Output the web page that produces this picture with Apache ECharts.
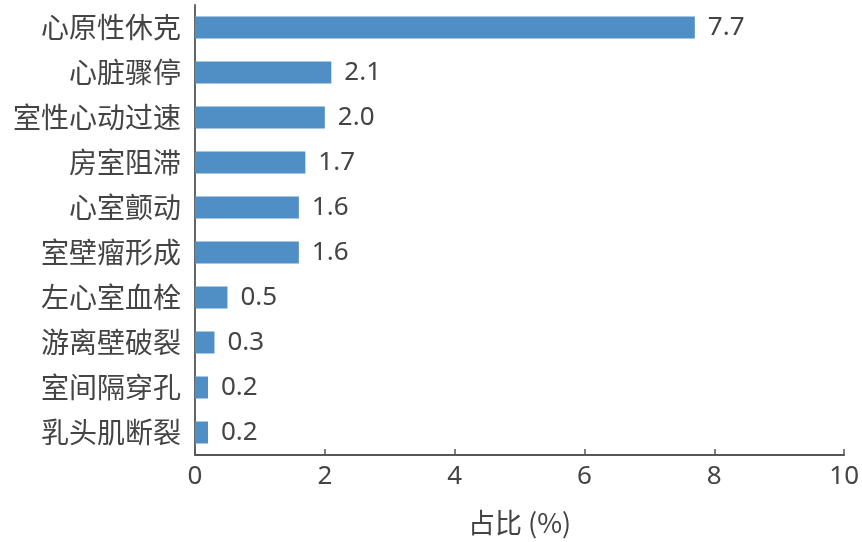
<!DOCTYPE html>
<html><head><meta charset="utf-8">
<script src="https://cdn.jsdelivr.net/npm/echarts@6/dist/echarts.min.js"></script>
<style>html,body{margin:0;padding:0;background:#fff}#c{width:862px;height:542px}</style>
</head><body><div id="c"></div>
<script>
const categories = ['心原性休克','心脏骤停','室性心动过速','房室阻滞','心室颤动','室壁瘤形成','左心室血栓','游离壁破裂','室间隔穿孔','乳头肌断裂'];
const values = [7.7, 2.1, 2.0, 1.7, 1.6, 1.6, 0.5, 0.3, 0.2, 0.2];
const xTicks = [0, 2, 4, 6, 8, 10];
const font = '"Noto Sans CJK SC", "Noto Sans", sans-serif';
const numFont = '"Noto Sans", "Liberation Sans", sans-serif';
const chart = echarts.init(document.getElementById('c'), null, {renderer:'canvas'});
chart.setOption({
  animation: false,
  grid: {left: 195, right: 17, top: 5, bottom: 87, containLabel: false},
  xAxis: {
    type: 'value', min: xTicks[0], max: xTicks[xTicks.length-1], interval: 2,
    name: '占比 (%)', nameLocation: 'middle', nameGap: 68,
    nameTextStyle: {fontSize: 27, color: '#444', fontFamily: font, verticalAlign: 'middle'},
    axisLine: {show: true, lineStyle: {color: '#555', width: 2}},
    axisTick: {show: true, inside: true, length: 6, lineStyle: {color: '#555', width: 1.5}},
    axisLabel: {fontSize: 26, color: '#444', fontFamily: numFont, margin: 9},
    splitLine: {show: false}
  },
  yAxis: {
    type: 'category', data: categories, inverse: true,
    axisLine: {show: true, lineStyle: {color: '#666', width: 2}},
    axisTick: {show: false},
    axisLabel: {fontSize: 28, color: '#444', fontFamily: font, margin: 14}
  },
  series: [{
    type: 'bar', data: values, barWidth: 22,
    itemStyle: {color: '#4f8fc6'},
    label: {show: true, position: 'right', distance: 13, fontSize: 26, color: '#444', fontFamily: numFont,
      formatter: p => p.value.toFixed(1)}
  }]
});
</script></body></html>
